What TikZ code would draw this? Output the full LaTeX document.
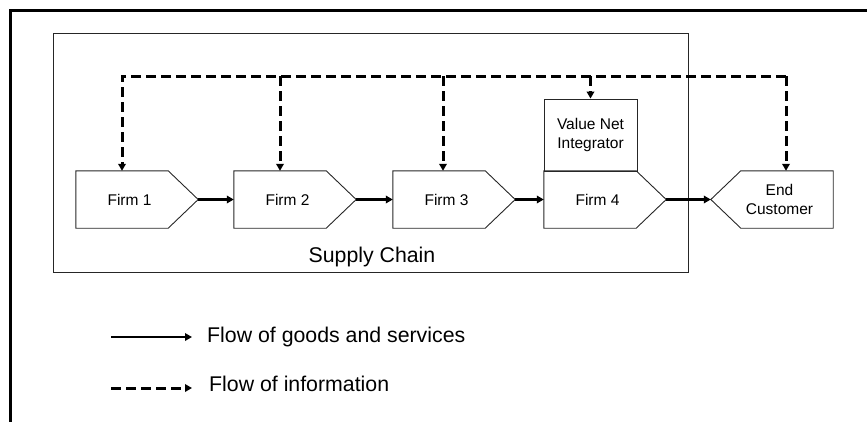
\documentclass[tikz,border=0pt]{standalone}
\usepackage{fontspec}
\setmainfont{Liberation Sans}
\usetikzlibrary{arrows.meta,calc}

% pentagon pointing right, drawn round a named node
\newcommand\firmoutline[1]{%
  \draw[outline] (#1.north west) -- ([xshift=-15pt]#1.north east)
    -- ([xshift=15pt]#1.east) -- ([xshift=-15pt]#1.south east)
    -- (#1.south west) -- cycle;}
% pentagon pointing left
\newcommand\custoutline[1]{%
  \draw[outline] (#1.north east) -- ([xshift=15pt]#1.north west)
    -- ([xshift=-15pt]#1.west) -- ([xshift=15pt]#1.south west)
    -- (#1.south east) -- cycle;}

\begin{document}
\begin{tikzpicture}[x=1pt,y=-1pt,
  outline/.style={draw=black!85,line width=0.9pt},
  boxfont/.style={font=\fontsize{15.5}{19.5}\selectfont},
  bigfont/.style={font=\fontsize{21.3}{25}\selectfont},
  firmbox/.style={boxfont,minimum width=107pt,minimum height=57pt,inner sep=0pt,align=center},
  tip/.style={-{Triangle[length=7pt,width=7.5pt]}},
  goods/.style={tip,line width=2.7pt,black},
  info/.style={line width=3pt,black,dash pattern=on 10pt off 5pt},
  infotip/.style={info,tip}]

\useasboundingbox (0,0) rectangle (867,421);

% outer frame, open to the right and bottom
\draw[line width=3pt,line join=miter] (10.5,430) -- (10.5,10.5) -- (875,10.5);

% supply chain boundary
\node[outline,minimum width=635pt,minimum height=239pt,inner sep=0pt] (chain) at (370.5,152.5) {};
\node[bigfont,anchor=base] (chainlabel) at (372,262) {Supply Chain};

% firms
\node[firmbox] (f1) at (129.5,199.5) {Firm 1};
\node[firmbox] (f2) at (287.5,199.5) {Firm 2};
\node[firmbox] (f3) at (446.5,199.5) {Firm 3};
\node[firmbox] (f4) at (597.5,199.5) {Firm 4};
\node[firmbox] (ec) at (779.5,199.5) {End\\Customer};
\firmoutline{f1}
\firmoutline{f2}
\firmoutline{f3}
\firmoutline{f4}
\custoutline{ec}

% integrator on top of firm 4
\node[outline,boxfont,minimum width=93pt,minimum height=72pt,inner sep=0pt,align=center]
  (vni) at (590.5,135) {Value Net\\Integrator};

% flow of goods
\draw[goods] ([xshift=15pt]f1.east) -- (f2.west);
\draw[goods] ([xshift=15pt]f2.east) -- (f3.west);
\draw[goods] ([xshift=15pt]f3.east) -- (f4.west);
\draw[goods] ([xshift=15pt]f4.east) -- ([xshift=-15pt]ec.west);

% flow of information
\coordinate (bus) at (0,76);
\coordinate (d1) at ([xshift=-7.5pt]f1.north);
\coordinate (d2) at ([xshift=-7.5pt]f2.north);
\coordinate (d3) at ([xshift=-3.5pt]f3.north);
\coordinate (d4) at (vni.north);
\coordinate (d5) at ([xshift=6.5pt]ec.north);
\draw[infotip] (d5 |- bus) -- (d1 |- bus) -- (d1);
\draw[infotip] (d2 |- bus) -- (d2);
\draw[infotip] (d3 |- bus) -- (d3);
\draw[infotip] (d4 |- bus) -- (d4);
\draw[infotip] (d5 |- bus) -- (d5);

% legend
\coordinate (lg1a) at (111,337);
\coordinate (lg1b) at (192,337);
\coordinate (lg2a) at (111,388);
\coordinate (lg2b) at (192,388);
\draw[goods] (lg1a) -- (lg1b);
\draw[infotip] (lg2a) -- (lg2b);
\node[bigfont,anchor=base west,inner sep=0pt] (lg1) at (207,342) {Flow of goods and services};
\node[bigfont,anchor=base west,inner sep=0pt] (lg2) at (209,391) {Flow of information};
\end{tikzpicture}
\end{document}
